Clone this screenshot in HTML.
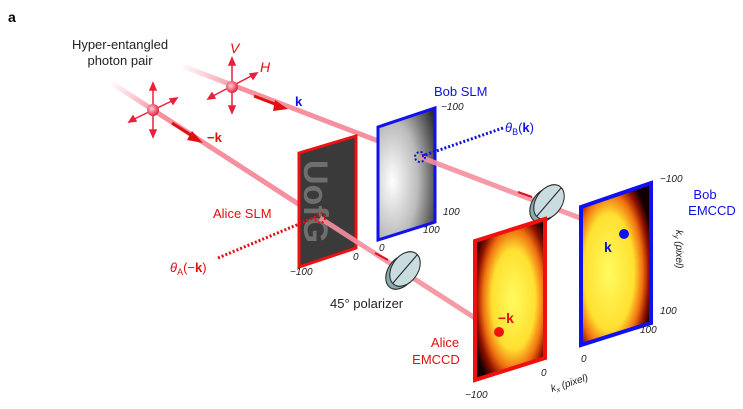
<!DOCTYPE html>
<html><head><meta charset="utf-8"><style>
body{margin:0;background:#fff}
svg{display:block;font-family:"Liberation Sans",sans-serif}
</style></head><body>
<svg width="743" height="409" viewBox="0 0 743 409">
<defs>
<linearGradient id="fadeB" gradientUnits="userSpaceOnUse" x1="180" y1="65" x2="240" y2="88"><stop offset="0" stop-color="#f6909f" stop-opacity="0"/><stop offset="1" stop-color="#f6909f"/></linearGradient>
<linearGradient id="fadeA" gradientUnits="userSpaceOnUse" x1="110" y1="82" x2="160" y2="114"><stop offset="0" stop-color="#f6909f" stop-opacity="0"/><stop offset="1" stop-color="#f6909f"/></linearGradient>
<radialGradient id="bobslm" cx="0.25" cy="0.55" r="0.9"><stop offset="0" stop-color="#fff"/><stop offset="0.5" stop-color="#bbb"/><stop offset="1" stop-color="#222"/></radialGradient>
<radialGradient id="emA" cx="0.55" cy="0.5" r="0.62"><stop offset="0" stop-color="#fffb60"/><stop offset="0.5" stop-color="#ffe030"/><stop offset="0.7" stop-color="#f07010"/><stop offset="0.85" stop-color="#901000"/><stop offset="1" stop-color="#100000"/></radialGradient>
<radialGradient id="emB" cx="0.4" cy="0.55" r="0.65"><stop offset="0" stop-color="#fffb60"/><stop offset="0.55" stop-color="#ffe030"/><stop offset="0.74" stop-color="#f07010"/><stop offset="0.88" stop-color="#901000"/><stop offset="1" stop-color="#100000"/></radialGradient>
<radialGradient id="ph" cx="0.4" cy="0.4" r="0.6"><stop offset="0" stop-color="#ffd0d8"/><stop offset="1" stop-color="#e8203c"/></radialGradient>
<clipPath id="slmclip"><polygon points="299,153 356,136 356,248 299,267"/></clipPath>
</defs>
<text x="8" y="22" font-size="14" font-weight="bold">a</text>
<text x="120" y="49" font-size="13" text-anchor="middle" fill="#222">Hyper-entangled</text>
<text x="120" y="65" font-size="13" text-anchor="middle" fill="#222">photon pair</text>

<line x1="180" y1="65" x2="420" y2="157" stroke="url(#fadeB)" stroke-width="5"/>
<line x1="110" y1="82" x2="320" y2="218" stroke="url(#fadeA)" stroke-width="5"/>

<polygon points="299,153 356,136 356,248 299,267" fill="#3a3a3a"/>
<g clip-path="url(#slmclip)"><text x="304" y="160" font-size="34" font-weight="bold" fill="#6e6e6e" transform="rotate(90 304 160)">UofG</text></g>
<polygon points="299,153 356,136 356,248 299,267" fill="none" stroke="#f01010" stroke-width="3"/>
<polygon points="378,127 435,108 435,222 378,240" fill="url(#bobslm)" stroke="#1010f0" stroke-width="3"/>

<line x1="320" y1="218" x2="475" y2="318" stroke="#f6909f" stroke-width="5" opacity="0.9"/>
<line x1="420" y1="157" x2="580" y2="218" stroke="#f6909f" stroke-width="5" opacity="0.9"/>

<g>
<ellipse cx="401" cy="272" rx="13" ry="19" transform="rotate(35 401 272)" fill="#8aa" stroke="#222"/>
<ellipse cx="405" cy="269" rx="13" ry="19" transform="rotate(35 405 269)" fill="#c9dde0" stroke="#222"/>
<line x1="393" y1="283" x2="417" y2="255" stroke="#222"/></g>
<g>
<ellipse cx="545" cy="205" rx="13" ry="19" transform="rotate(35 545 205)" fill="#8aa" stroke="#222"/>
<ellipse cx="549" cy="202" rx="13" ry="19" transform="rotate(35 549 202)" fill="#c9dde0" stroke="#222"/>
<line x1="537" y1="216" x2="561" y2="188" stroke="#222"/></g>
<line x1="375" y1="253" x2="388" y2="260" stroke="#e01020" stroke-width="2"/>
<line x1="518" y1="192" x2="532" y2="197" stroke="#e01020" stroke-width="2"/>

<polygon points="475,241 545,219 545,358 475,380" fill="url(#emA)" stroke="#f01010" stroke-width="4"/>
<polygon points="581,207 651,183 651,323 581,345" fill="url(#emB)" stroke="#1010f0" stroke-width="4"/>
<circle cx="499" cy="332" r="5" fill="#f01010"/>
<circle cx="624" cy="234" r="5" fill="#1010f0"/>
<text x="498" y="323" font-size="14" font-weight="bold" fill="#e01010">−k</text>
<text x="604" y="252" font-size="14" font-weight="bold" fill="#1010d0">k</text>

<line x1="218" y1="258" x2="318" y2="216" stroke="#e01010" stroke-width="3" stroke-dasharray="2,2"/>
<circle cx="320" cy="218" r="5" fill="none" stroke="#e01010" stroke-width="2" stroke-dasharray="2,2"/>
<line x1="503" y1="128" x2="422" y2="156" stroke="#1010e0" stroke-width="3" stroke-dasharray="2,2"/>
<circle cx="420" cy="157" r="5" fill="none" stroke="#1010e0" stroke-width="2" stroke-dasharray="2,2"/>

<g stroke="#e8203c" stroke-width="1.5" fill="#e8203c">
<line x1="153" y1="85" x2="153" y2="135"/><line x1="130" y1="121" x2="176" y2="99"/>
<polygon points="153,83 150,90 156,90"/><polygon points="153,137 150,130 156,130"/>
<polygon points="177,98 170,99 173,104"/><polygon points="129,122 136,121 133,116"/>
</g>
<circle cx="153" cy="110" r="6" fill="url(#ph)"/>
<g stroke="#e8203c" stroke-width="1.5" fill="#e8203c">
<line x1="232" y1="60" x2="232" y2="111"/><line x1="209" y1="98" x2="255" y2="74"/>
<polygon points="232,58 229,65 235,65"/><polygon points="232,113 229,106 235,106"/>
<polygon points="257,73 250,74 253,79"/><polygon points="208,99 215,98 212,93"/>
</g>
<circle cx="232" cy="87" r="6" fill="url(#ph)"/>
<line x1="254" y1="96" x2="280" y2="106" stroke="#e01010" stroke-width="3"/>
<polygon points="288,109 275,100 273,111" fill="#e01010"/>
<line x1="172" y1="123" x2="194" y2="137" stroke="#e01010" stroke-width="3"/>
<polygon points="203,143 192,131 187,140" fill="#e01010"/>
<text x="230" y="53" font-size="14" font-style="italic" fill="#e01010">V</text>
<text x="260" y="72" font-size="14" font-style="italic" fill="#e01010">H</text>
<text x="295" y="106" font-size="13" font-weight="bold" fill="#1010e0">k</text>
<text x="207" y="142" font-size="13" font-weight="bold" fill="#e01010">−k</text>

<text x="213" y="218" font-size="13" fill="#e01010">Alice SLM</text>
<text x="434" y="96" font-size="13" fill="#1010e0">Bob SLM</text>
<text x="170" y="272" font-size="13" fill="#e01010" font-style="italic">θ<tspan font-size="9" dy="3" font-style="normal">A</tspan><tspan dy="-3" font-style="normal">(−<tspan font-weight="bold">k</tspan>)</tspan></text>
<text x="505" y="132" font-size="13" fill="#1010e0" font-style="italic">θ<tspan font-size="9" dy="3" font-style="normal">B</tspan><tspan dy="-3" font-style="normal">(<tspan font-weight="bold">k</tspan>)</tspan></text>
<text x="330" y="308" font-size="13" fill="#222">45° polarizer</text>
<text x="445" y="347" font-size="13" fill="#e01010" text-anchor="middle">Alice</text>
<text x="436" y="364" font-size="13" fill="#e01010" text-anchor="middle">EMCCD</text>
<text x="705" y="199" font-size="13" fill="#1010e0" text-anchor="middle">Bob</text>
<text x="712" y="215" font-size="13" fill="#1010e0" text-anchor="middle">EMCCD</text>
<g font-size="10" font-style="italic" fill="#222">
<text x="290" y="275">−100</text><text x="353" y="260">0</text>
<text x="441" y="110">−100</text><text x="443" y="215">100</text>
<text x="379" y="251">0</text><text x="423" y="233">100</text>
<text x="465" y="398">−100</text><text x="541" y="376">0</text>
<text x="660" y="182">−100</text><text x="660" y="314">100</text>
<text x="581" y="362">0</text><text x="640" y="333">100</text>
<text x="552" y="392" transform="rotate(-18 552 392)">k<tspan font-size="7" dy="2">x</tspan><tspan dy="-2"> (pixel)</tspan></text>
<text x="676" y="230" transform="rotate(90 676 230)">k<tspan font-size="7" dy="2">y</tspan><tspan dy="-2"> (pixel)</tspan></text>
</g>
</svg>
</body></html>
